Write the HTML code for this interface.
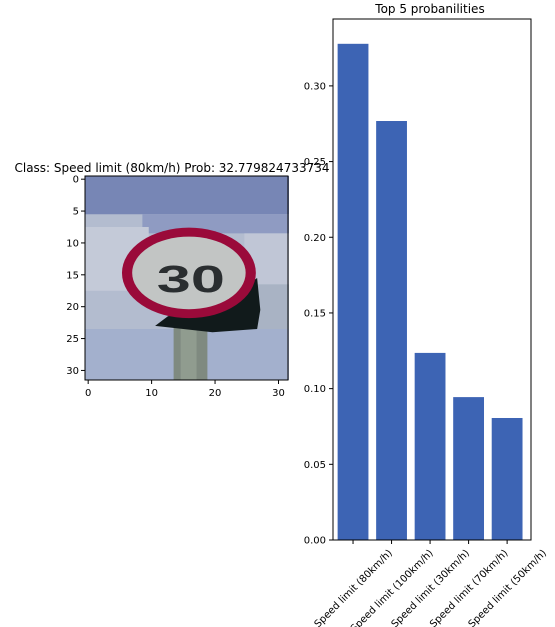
<!DOCTYPE html>
<html><head><meta charset="utf-8"><style>
body{margin:0;background:#fff;}
svg{display:block;font-family:"DejaVu Sans","Liberation Sans",sans-serif;}
</style></head><body>
<svg id="fig" width="555" height="627">
  <text x="172" y="172" font-size="12" text-anchor="middle">Class: Speed limit (80km/h) Prob: 32.779824733734</text>
  <g id="img">
    <svg x="85" y="176" width="204" height="204" viewBox="0 0 32 32" preserveAspectRatio="none">
      <rect x="0" y="0" width="32" height="32" fill="#b3bccf"/>
      <rect x="0" y="0" width="32" height="6" fill="#7786b5"/>
      <rect x="9" y="6" width="23" height="3" fill="#8f9bc2"/>
      <rect x="0" y="8" width="10" height="10" fill="#c4cad8"/>
      <rect x="25" y="9" width="7" height="8" fill="#c0c6d6"/>
      <rect x="24" y="17" width="8" height="8" fill="#a9b3c4"/>
      <rect x="0" y="24" width="32" height="8" fill="#a3b0cd"/>
      <rect x="13.9" y="23" width="5.3" height="9" fill="#7f8a80"/>
      <rect x="15" y="23" width="2.5" height="9" fill="#909c8f"/>
      <polygon points="25.5,17 27,16 27.5,21 27,24 20,24.5 11,23.5 13,22 22,20" fill="#111a1b"/>
      <ellipse cx="16.3" cy="15.2" rx="10.5" ry="7.1" fill="#9a0a3a"/>
      <ellipse cx="16.3" cy="15.2" rx="8.9" ry="5.7" fill="#c2c5c4"/>
      <text x="0" y="0" font-size="6" font-weight="bold" text-anchor="middle" fill="#2a2e30" font-family="Liberation Sans,sans-serif" transform="translate(16.6 18.2) scale(1.6 1.0)">30</text>
    </svg>
    <rect x="85" y="176" width="203" height="204" fill="none" stroke="#000" stroke-width="1"/>
  </g>
  <g id="imgticks"></g>
  <text x="430" y="13" font-size="12" text-anchor="middle">Top 5 probanilities</text>
  <g id="bars"></g>
  <g id="yticks"></g>
  <g id="xticks"></g>
  <rect x="333" y="19" width="198" height="521" fill="none" stroke="#000" stroke-width="1"/>
</svg>
<script>
const categories = ["Speed limit (80km/h)","Speed limit (100km/h)","Speed limit (30km/h)","Speed limit (70km/h)","Speed limit (50km/h)"];
const probs = [0.3278, 0.2768, 0.1236, 0.0944, 0.0806];
const yTickValues = [0, 0.05, 0.10, 0.15, 0.20, 0.25, 0.30];
const yTickLabels = ["0.00","0.05","0.10","0.15","0.20","0.25","0.30"];
const imgTickValues = [0, 5, 10, 15, 20, 25, 30];

const NS = "http://www.w3.org/2000/svg";
function mk(tag, attrs, parent){const e=document.createElementNS(NS,tag);for(const k in attrs)e.setAttribute(k,attrs[k]);parent.appendChild(e);return e;}
const L=333,R=531,T=19,B=540;
const yMax = Math.max(...probs)*1.05;
const y = v => B - v/yMax*(B-T);
const n = categories.length;
const xmin = -0.52, xmax = n - 1 + 0.62;
const xc = i => L + (i - xmin)/(xmax - xmin)*(R-L);
const bw = 0.8/(xmax-xmin)*(R-L);
const bars=document.getElementById('bars');
probs.forEach((p,i)=>{
  const r=mk('rect',{x:xc(i)-bw/2,y:y(p),width:bw,height:B-y(p),fill:'#3d64b4'},bars);
  
  
});
const yt=document.getElementById('yticks');
yTickValues.forEach((v,i)=>{
  mk('line',{x1:L-4,x2:L,y1:y(v),y2:y(v),stroke:'#000'},yt);
  const t=mk('text',{x:L-7,y:y(v)+3.5,'font-size':10,'text-anchor':'end'},yt);
  t.textContent=yTickLabels[i];
  
  
});
const xt=document.getElementById('xticks');
categories.forEach((c,i)=>{
  const x=xc(i);
  mk('line',{x1:x,x2:x,y1:B,y2:B+4,stroke:'#000'},xt);
  const t=mk('text',{x:0,y:0,'font-size':10,'text-anchor':'middle'},xt);
  t.textContent=c;
  
  
  const len=t.getComputedTextLength();
  const h=len*0.7071/2 + 4;
  t.setAttribute('transform',`translate(${x} ${B+7+h}) rotate(-45) translate(0 3.5)`);
});
const it=document.getElementById('imgticks');
const px = v => 85 + (v+0.5)*203/32;
const py = v => 176 + (v+0.5)*204/32;
imgTickValues.forEach(v=>{
  mk('line',{x1:81,x2:85,y1:py(v),y2:py(v),stroke:'#000'},it);
  const a=mk('text',{x:79,y:py(v)+3.5,'font-size':10,'text-anchor':'end'},it);
  a.textContent=v;
  
  
});
[0,10,20,30].forEach(v=>{
  mk('line',{x1:px(v),x2:px(v),y1:380,y2:384,stroke:'#000'},it);
  const a=mk('text',{x:px(v),y:396,'font-size':10,'text-anchor':'middle'},it);
  a.textContent=v;
  
  
});
</script>
</body></html>
